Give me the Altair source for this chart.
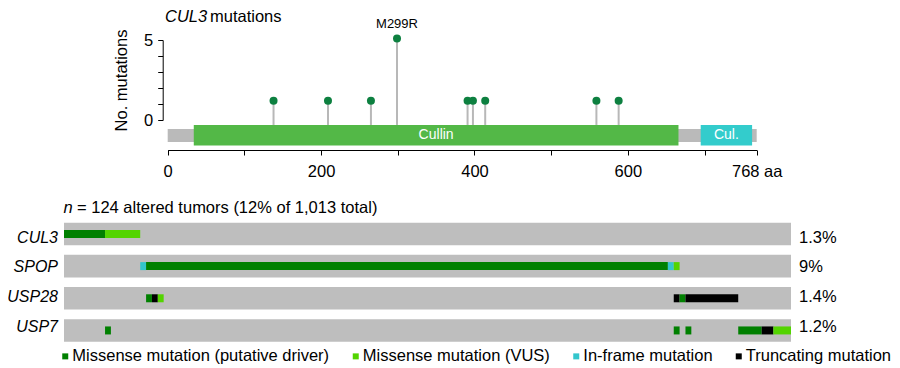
import altair as alt
import pandas as pd

FONT = "Liberation Sans"
FS = 16.5

# ---------------- top panel: CUL3 protein lollipop ----------------
PROTEIN_LENGTH = 768
DOMAIN_NAMES = ["Cullin", "Cul."]
DOMAIN_STARTS = [34, 695]
DOMAIN_ENDS = [666, 762]
DOMAIN_COLORS = ["#53b847", "#33cccc"]
MUT_POSITIONS = [138, 209, 265, 299, 391, 398, 414, 559, 588]
MUT_COUNTS = [1.2, 1.2, 1.2, 5.1, 1.2, 1.2, 1.2, 1.2, 1.2]
MUT_LABELS = ["", "", "", "M299R", "", "", "", "", ""]
X_TICKS = [0, 100, 200, 300, 400, 500, 600, 700, 768]
Y_TICKS = [0, 1, 2, 3, 4, 5]

# ---------------- bottom panel: oncoprint ----------------
GENES = ["CUL3", "SPOP", "USP28", "USP7"]
PERCENTS = ["1.3%", "9%", "1.4%", "1.2%"]
N_ALTERED = 124
MUT_TYPES = ["Missense mutation (putative driver)", "Missense mutation (VUS)",
             "In-frame mutation", "Truncating mutation"]
MUT_COLORS = ["#008000", "#53d400", "#33c6cc", "#000000"]
D, V, I, T = MUT_TYPES
CUL3_STARTS = [0, 7]
CUL3_ENDS = [7, 13]
CUL3_TYPES = [D, V]
SPOP_STARTS = [13, 14, 103, 104]
SPOP_ENDS = [14, 103, 104, 105]
SPOP_TYPES = [I, D, I, V]
USP28_STARTS = [14, 15, 16, 104, 105, 106]
USP28_ENDS = [15, 16, 17, 105, 106, 115]
USP28_TYPES = [D, T, V, T, D, T]
USP7_STARTS = [7, 104, 106, 115, 119, 121]
USP7_ENDS = [8, 105, 107, 119, 121, 124]
USP7_TYPES = [D, D, D, D, T, V]

# layout constants (plot-pixel ranges of the scales)
BACKBONE_Y = (-0.56, -1.38)
DOMAIN_Y = (-0.31, -1.6)
STEM_BASE = -0.31

top_x = alt.Scale(domain=[0, PROTEIN_LENGTH], range=[159.7, 748.7], nice=False, zero=False)
top_y = alt.Scale(domain=[0, 5], range=[112, 32], nice=False, zero=False)
bot_x = alt.Scale(domain=[0, N_ALTERED], range=[56, 783], nice=False, zero=False)
bot_y = alt.Scale(domain=GENES, range=[214.7, 333.7], paddingInner=0.3, paddingOuter=0)

backbone_df = pd.DataFrame({"start": [0], "end": [PROTEIN_LENGTH],
                            "y0": [BACKBONE_Y[0]], "y1": [BACKBONE_Y[1]]})
domain_df = pd.DataFrame({"name": DOMAIN_NAMES, "start": DOMAIN_STARTS, "end": DOMAIN_ENDS,
                          "y0": DOMAIN_Y[0], "y1": DOMAIN_Y[1]})
mut_df = pd.DataFrame({"pos": MUT_POSITIONS, "count": MUT_COUNTS, "label": MUT_LABELS,
                       "base": STEM_BASE})

backbone = alt.Chart(backbone_df).mark_rect(color="#bababa").encode(
    x=alt.X("start:Q", scale=top_x, axis=None), x2="end:Q",
    y=alt.Y("y0:Q", scale=top_y, axis=None), y2="y1:Q")

domains = alt.Chart(domain_df).mark_rect().encode(
    x=alt.X("start:Q", scale=top_x, axis=None), x2="end:Q",
    y=alt.Y("y0:Q", scale=top_y, axis=None), y2="y1:Q",
    color=alt.Color("name:N", scale=alt.Scale(domain=DOMAIN_NAMES, range=DOMAIN_COLORS), legend=None))

domain_labels = alt.Chart(domain_df).transform_calculate(
    mid="(datum.start + datum.end) / 2", ym="(datum.y0 + datum.y1) / 2"
).mark_text(color="white", fontSize=14, baseline="middle", font=FONT).encode(
    x=alt.X("mid:Q", scale=top_x, axis=None),
    y=alt.Y("ym:Q", scale=top_y, axis=None),
    text="name:N")

stems = alt.Chart(mut_df).mark_rule(color="#b8b8b8", strokeWidth=2).encode(
    x=alt.X("pos:Q", scale=top_x, axis=None),
    y=alt.Y("base:Q", scale=top_y, axis=None), y2="count:Q")

dots = alt.Chart(mut_df).mark_circle(size=64, color="#0d8040", opacity=1).encode(
    x=alt.X("pos:Q", scale=top_x, axis=alt.Axis(
        orient="bottom", offset=-216, values=X_TICKS,
        labelExpr="datum.value == 768 ? '768 aa' : (datum.value % 200 == 0 ? datum.label : '')",
        format="d", tickSize=5, domainColor="black", tickColor="black",
        labelFontSize=FS, labelFont=FONT, labelColor="black", labelPadding=8,
        labelFlush=False, labelOverlap=False, grid=False, title=None)),
    y=alt.Y("count:Q", scale=top_y, axis=alt.Axis(
        orient="left", offset=-154.7, values=Y_TICKS,
        labelExpr="datum.value == 0 || datum.value == 5 ? datum.label : ''",
        format="d", tickSize=5, domainColor="black", tickColor="black",
        labelFontSize=FS, labelFont=FONT, labelColor="black", labelPadding=5,
        labelOverlap=False, grid=False,
        title="No. mutations", titleFontSize=FS, titleFont=FONT, titleFontWeight="normal",
        titleColor="black", titleAngle=270, titleAlign="center", titleBaseline="middle",
        titleX=-41, titleY=72)))

mut_label = alt.Chart(mut_df).transform_filter("datum.label != ''").mark_text(
    fontSize=13, dy=-10, baseline="alphabetic", font=FONT, color="black").encode(
    x=alt.X("pos:Q", scale=top_x, axis=None),
    y=alt.Y("count:Q", scale=top_y, axis=None),
    text="label:N")

title_italic = alt.Chart(pd.DataFrame({"t": ["CUL3"]})).mark_text(
    fontSize=FS, fontStyle="italic", align="left", baseline="alphabetic", font=FONT).encode(
    text="t:N", x=alt.value(157), y=alt.value(14))
title_rest = alt.Chart(pd.DataFrame({"t": ["mutations"]})).mark_text(
    fontSize=FS, align="left", baseline="alphabetic", font=FONT).encode(
    text="t:N", x=alt.value(202), y=alt.value(14))

# ---------------- oncoprint ----------------
rows_df = pd.DataFrame({"gene": GENES, "start": 0, "end": N_ALTERED, "pct": PERCENTS})
cells_df = pd.concat([
    pd.DataFrame({"gene": g, "start": s, "end": e, "type": t})
    for g, s, e, t in [("CUL3", CUL3_STARTS, CUL3_ENDS, CUL3_TYPES),
                       ("SPOP", SPOP_STARTS, SPOP_ENDS, SPOP_TYPES),
                       ("USP28", USP28_STARTS, USP28_ENDS, USP28_TYPES),
                       ("USP7", USP7_STARTS, USP7_ENDS, USP7_TYPES)]
], ignore_index=True)

rows = alt.Chart(rows_df).mark_rect(color="#bebebe").encode(
    x=alt.X("start:Q", scale=bot_x, axis=None), x2="end:Q",
    y=alt.Y("gene:N", scale=bot_y, axis=None))

cells = alt.Chart(cells_df).mark_bar(size=8).encode(
    x=alt.X("start:Q", scale=bot_x, axis=None), x2="end:Q",
    y=alt.Y("gene:N", scale=bot_y, axis=None),
    color=alt.Color("type:N", scale=alt.Scale(domain=MUT_TYPES, range=MUT_COLORS),
                    legend=alt.Legend(orient="none", legendX=49, legendY=340,
                                      direction="horizontal", columns=4, title=None,
                                      symbolType="square", symbolSize=36, symbolStrokeWidth=0,
                                      symbolOpacity=1, labelFontSize=FS, labelFont=FONT,
                                      labelColor="black", labelLimit=400,
                                      labelOffset={"expr": "-1.2"},
                                      columnPadding=17.5, padding=0)))

gene_labels = alt.Chart(rows_df).mark_text(
    align="right", baseline="middle", fontStyle="italic", fontSize=16, font=FONT).encode(
    x=alt.value(50), y=alt.Y("gene:N", scale=bot_y, axis=None), text="gene:N")

pct_labels = alt.Chart(rows_df).mark_text(
    align="left", baseline="middle", fontSize=FS, font=FONT).encode(
    x=alt.value(791), y=alt.Y("gene:N", scale=bot_y, axis=None), text="pct:N")

n_italic = alt.Chart(pd.DataFrame({"t": ["n"]})).mark_text(
    fontSize=FS, fontStyle="italic", align="left", baseline="alphabetic", font=FONT).encode(
    text="t:N", x=alt.value(55.5), y=alt.value(205))
n_rest = alt.Chart(pd.DataFrame({"t": ["= 124 altered tumors (12% of 1,013 total)"]})).mark_text(
    fontSize=FS, align="left", baseline="alphabetic", font=FONT).encode(
    text="t:N", x=alt.value(69), y=alt.value(205))

chart = alt.layer(
    backbone, domains, domain_labels, stems, dots, mut_label, title_italic, title_rest,
    rows, cells, gene_labels, pct_labels, n_italic, n_rest
).resolve_scale(
    x="independent", y="independent", color="independent"
).properties(
    width=884, height=358, padding=0, autosize=alt.AutoSizeParams(type="none")
).configure(font=FONT).configure_view(stroke=None)

chart.save("out.html", embed_options={"renderer": "svg", "actions": False})
